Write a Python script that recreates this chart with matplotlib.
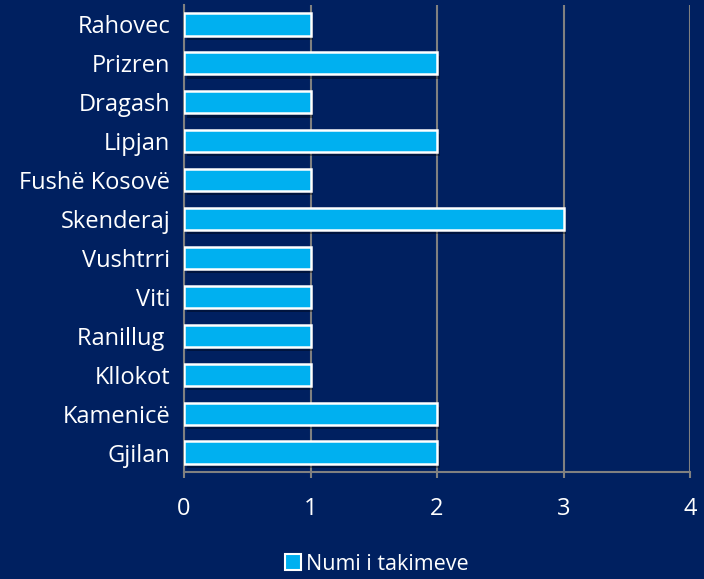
import matplotlib.pyplot as plt
import matplotlib.patheffects as pe
from matplotlib.patches import Patch

plt.rcParams['font.family'] = ['Open Sans', 'DejaVu Sans']

cities = ["Rahovec", "Prizren", "Dragash", "Lipjan", "Fushë Kosovë", "Skenderaj",
          "Vushtrri", "Viti", "Ranillug ", "Kllokot", "Kamenicë", "Gjilan"]
meetings = [1, 2, 1, 2, 1, 3, 1, 1, 1, 1, 2, 2]
series_name = "Numi i takimeve"

bg = "#002060"
bar_color = "#00B0F0"
grid_color = "#808080"

fig = plt.figure(figsize=(7.04, 5.79), dpi=100, facecolor=bg)
ax = fig.add_axes([0.2614, 0.1848, 0.7188, 0.8066], facecolor=bg)

ypos = list(range(len(cities)))
bars = ax.barh(ypos, meetings, height=0.57, color=bar_color, edgecolor="white",
               linewidth=1.8, zorder=3)
for b in bars:
    b.set_path_effects([pe.SimplePatchShadow(offset=(2, -3), shadow_rgbFace="black", alpha=0.35),
                        pe.Normal()])

ax.set_xlim(0, 4)
ax.set_ylim(len(cities) - 0.5, -0.5)
ax.set_xticks([0, 1, 2, 3, 4])
ax.set_yticks(ypos)
ax.set_yticklabels(cities)

ax.grid(axis="x", color=grid_color, linewidth=1.5, zorder=0)
for side in ["top", "right"]:
    ax.spines[side].set_visible(False)
for side in ["left", "bottom"]:
    ax.spines[side].set_color(grid_color)
    ax.spines[side].set_linewidth(1.5)

ax.tick_params(axis="x", colors=grid_color, labelcolor="white", labelsize=17,
               length=4, width=1.5, pad=14)
ax.tick_params(axis="y", length=0, labelcolor="white", labelsize=17, pad=10)

handle = Patch(facecolor=bar_color, edgecolor="white", linewidth=1.5)
leg = fig.legend([handle], [series_name], loc="lower center", bbox_to_anchor=(0.535, -0.026),
                 frameon=False, fontsize=15.5, handlelength=0.75, handleheight=0.75,
                 handletextpad=0.2)
for t in leg.get_texts():
    t.set_color("white")

fig.savefig("out.png", dpi=100, facecolor=bg)
